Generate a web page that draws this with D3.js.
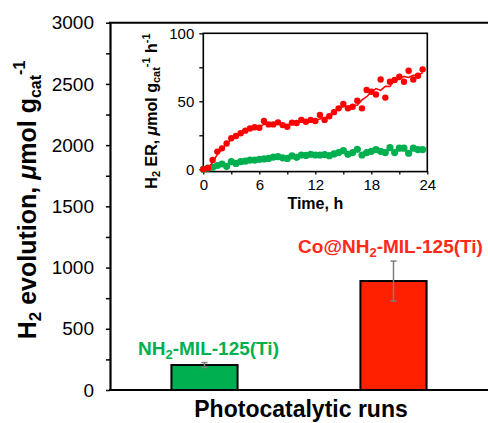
<!DOCTYPE html>
<html>
<head>
<meta charset="utf-8">
<script src="https://cdn.jsdelivr.net/npm/d3@7/dist/d3.min.js"></script>
<style>
  html, body { margin: 0; padding: 0; background: #fff; }
  svg { display: block; font-family: "Liberation Sans", Arial, Helvetica, sans-serif; }
</style>
</head>
<body>
<svg id="chart" width="488" height="423"></svg>
<script>
// ---------- data ----------
const barCategories = ["NH2-MIL-125(Ti)", "Co@NH2-MIL-125(Ti)"];
const barValues = [204, 890];
const barErrors = [20, 163];
const barColors = ["#00b050", "#ff2000"];
const labelColors = ["#00b050", "#ff2a1a"];
const mainMajorTicks = [0, 500, 1000, 1500, 2000, 2500, 3000];
const mainMinorTicks = [250, 750, 1250, 1750, 2250, 2750];

const insetTimes = [0,0.5,1,1.5,2,2.5,3,3.5,4,4.5,5,5.5,6,6.5,7,7.5,8,8.5,9,9.5,10,10.5,11,11.5,
  12,12.5,13,13.5,14,14.5,15,15.5,16,16.5,17,17.5,18,18.5,19,19.5,20,20.5,21,21.5,22,22.5,23,23.5];
const redValues = [0,1,6.8,13,15.4,19,22.8,24.5,26.5,28.4,30,30.9,30.6,35.5,33,33,34.5,32.5,31.3,34.3,34,36.3,35,36.3,
  35.5,40,36.3,39,42,44.8,48,44.8,46,50.4,44.8,58.3,57,55,66,52.7,64.4,65.7,68,64.4,72.5,66,68.8,73.5];
const redTrend = [0,1,5,11,15,19,22,24.5,26.5,28.3,29.8,30.5,31.5,33,33.5,33.5,33.5,33,32.7,33.3,34.5,35,35.8,35.6,
  36,37,38,39,41.6,45,46,46.3,47,47,51,53.4,56.8,59.3,58,61,60.9,66,66,68.3,67.6,69.1,69.4,71];
const greenValues = [0,0.8,1.5,2.8,3.9,2.2,5.6,4.3,5.6,6,6.8,6.8,7.3,7.6,8,9,9.3,8.4,8,9.8,8.8,10.5,10.2,11,
  10.5,10.5,10.8,10,11.3,12.3,13.7,11,12.3,14.7,10.5,12.3,13.2,14.5,13.2,12.3,15.9,12.3,15.5,15.5,11.8,15.5,14.5,14.5];
const insetYTicks = [0, 25, 50, 75, 100];
const insetYLabels = [0, 50, 100];
const insetXTicks = [0, 3, 6, 9, 12, 15, 18, 21, 24];
const insetXLabels = [0, 6, 12, 18, 24];

// ---------- main chart ----------
const svg = d3.select("#chart");
const M = { left: 110, right: 488, top: 22.7, bottom: 390 };

const y = d3.scaleLinear().domain([0, 3000]).range([M.bottom, M.top]);
const x = d3.scaleBand().domain(barCategories).range([M.left, M.right])
  .paddingInner(0.65).paddingOuter(0.325);

// minor ticks
svg.append("g").attr("transform", `translate(${M.left},0)`)
  .call(d3.axisLeft(y).tickValues(mainMinorTicks).tickSize(4).tickFormat(""))
  .call(g => g.select(".domain").remove())
  .call(g => g.selectAll("line").attr("stroke", "#000").attr("stroke-width", 1.5));

// major ticks + labels
const yAxisG = svg.append("g").attr("transform", `translate(${M.left},0)`)
  .call(d3.axisLeft(y).tickValues(mainMajorTicks).tickSize(4).tickPadding(12).tickSizeOuter(0)
    .tickFormat(d3.format("d")));
yAxisG.select(".domain").attr("stroke", "#000").attr("stroke-width", 2.2);
yAxisG.selectAll("line").attr("stroke", "#000").attr("stroke-width", 1.5);
yAxisG.selectAll("text").attr("font-size", 19).attr("fill", "#000")
  .attr("font-family", "Liberation Sans, Arial, sans-serif");

// top frame line & x axis line
svg.append("line").attr("x1", M.left - 1).attr("x2", M.right).attr("y1", M.top).attr("y2", M.top)
  .attr("stroke", "#000").attr("stroke-width", 2);
svg.append("line").attr("x1", M.left - 1).attr("x2", M.right).attr("y1", M.bottom).attr("y2", M.bottom)
  .attr("stroke", "#000").attr("stroke-width", 2.2);

// bars
svg.append("g").selectAll("rect").data(barCategories).join("rect")
  .attr("x", d => x(d))
  .attr("width", x.bandwidth())
  .attr("y", (d, i) => y(barValues[i]))
  .attr("height", (d, i) => y(0) - y(barValues[i]))
  .attr("fill", (d, i) => barColors[i])
  .attr("stroke", "#000").attr("stroke-width", 2);

// error bars
const eb = svg.append("g").attr("stroke", "#7f7f7f").attr("stroke-width", 1.5);
barCategories.forEach((c, i) => {
  const cx = x(c) + x.bandwidth() / 2;
  const yT = y(barValues[i] + barErrors[i]), yB = y(barValues[i] - barErrors[i]);
  eb.append("line").attr("x1", cx).attr("x2", cx).attr("y1", yT).attr("y2", yB);
  eb.append("line").attr("x1", cx - 3).attr("x2", cx + 3).attr("y1", yT).attr("y2", yT);
  eb.append("line").attr("x1", cx - 3).attr("x2", cx + 3).attr("y1", yB).attr("y2", yB);
});

// bar labels (with subscript 2)
barCategories.forEach((c, i) => {
  const cx = x(c) + x.bandwidth() / 2 + (i === 0 ? 4 : -3);
  const t = svg.append("text")
    .attr("x", cx).attr("y", y(barValues[i] + barErrors[i]) - 8)
    .attr("text-anchor", "middle").attr("font-size", 19).attr("font-weight", "bold")
    .attr("fill", labelColors[i]);
  const parts = c.split("NH2");
  t.append("tspan").text(parts[0] + "NH");
  t.append("tspan").text("2").attr("font-size", 13).attr("dy", 4);
  t.append("tspan").text(parts[1]).attr("dy", -4);
});

// main y title
const yt = svg.append("text")
  .attr("transform", `translate(36,200) rotate(-90)`)
  .attr("text-anchor", "middle").attr("font-size", 25).attr("font-weight", "bold").attr("fill", "#000");
yt.append("tspan").text("H");
yt.append("tspan").text("2").attr("font-size", 17).attr("dy", 5);
yt.append("tspan").text(" evolution, ").attr("dy", -5);
yt.append("tspan").text("\u03bc").attr("font-style", "italic");
yt.append("tspan").text("mol g");
yt.append("tspan").text("cat").attr("font-size", 16).attr("dy", 5);
yt.append("tspan").text("-1").attr("font-size", 16).attr("dy", -16);

// main x title
svg.append("text").attr("x", 301).attr("y", 417).attr("text-anchor", "middle")
  .attr("font-size", 23).attr("font-weight", "bold").attr("fill", "#000")
  .text("Photocatalytic runs");

// ---------- inset ----------
const I = { left: 203.3, right: 427.3, top: 33.3, bottom: 171.6 };
const ix = d3.scaleLinear().domain([0, 24]).range([I.left, I.right]);
const iy = d3.scaleLinear().domain([-1.7, 100]).range([I.bottom, I.top]);

svg.append("rect").attr("x", I.left).attr("y", I.top)
  .attr("width", I.right - I.left).attr("height", I.bottom - I.top)
  .attr("fill", "#fff").attr("stroke", "#000").attr("stroke-width", 1.6);

const iyAxis = svg.append("g").attr("transform", `translate(${I.left},0)`)
  .call(d3.axisLeft(iy).tickValues(insetYTicks).tickSize(4).tickPadding(5)
    .tickFormat(d => insetYLabels.includes(d) ? d : ""));
iyAxis.select(".domain").remove();
iyAxis.selectAll("line").attr("stroke", "#000").attr("stroke-width", 1.3);
iyAxis.selectAll("text").attr("font-size", 15).attr("fill", "#000")
  .attr("font-family", "Liberation Sans, Arial, sans-serif");

const ixAxis = svg.append("g").attr("transform", `translate(0,${I.bottom})`)
  .call(d3.axisBottom(ix).tickValues(insetXTicks).tickSize(3).tickPadding(5)
    .tickFormat(d => insetXLabels.includes(d) ? d : ""));
ixAxis.select(".domain").remove();
ixAxis.selectAll("line").attr("stroke", "#000").attr("stroke-width", 1.3);
ixAxis.selectAll("text").attr("font-size", 15).attr("fill", "#000")
  .attr("font-family", "Liberation Sans, Arial, sans-serif");

// green points
svg.append("g").selectAll("circle").data(greenValues).join("circle")
  .attr("cx", (d, i) => ix(insetTimes[i])).attr("cy", d => iy(d))
  .attr("r", 3.6).attr("fill", "#00b050");

// red trend line
svg.append("path").datum(redTrend)
  .attr("d", d3.line().x((d, i) => ix(insetTimes[i])).y(d => iy(d)))
  .attr("fill", "none").attr("stroke", "#ff0000").attr("stroke-width", 1.5);

// red points
svg.append("g").selectAll("circle").data(redValues).join("circle")
  .attr("cx", (d, i) => ix(insetTimes[i])).attr("cy", d => iy(d))
  .attr("r", 3.2).attr("fill", "#ff0000");

// inset titles
svg.append("text").attr("x", (I.left + I.right) / 2).attr("y", 209)
  .attr("text-anchor", "middle").attr("font-size", 16).attr("font-weight", "bold").attr("fill", "#000")
  .text("Time, h");

const it = svg.append("text")
  .attr("transform", `translate(157,111) rotate(-90)`)
  .attr("text-anchor", "middle").attr("font-size", 16).attr("font-weight", "bold").attr("fill", "#000");
it.append("tspan").text("H");
it.append("tspan").text("2").attr("font-size", 11).attr("dy", 3);
it.append("tspan").text(" ER, ").attr("dy", -3);
it.append("tspan").text("\u03bc").attr("font-style", "italic");
it.append("tspan").text("mol g");
it.append("tspan").text("cat").attr("font-size", 11).attr("dy", 3);
it.append("tspan").text("-1").attr("font-size", 11).attr("dy", -10);
it.append("tspan").text(" h").attr("dy", 7);
it.append("tspan").text("-1").attr("font-size", 11).attr("dy", -7);
</script>
</body>
</html>
